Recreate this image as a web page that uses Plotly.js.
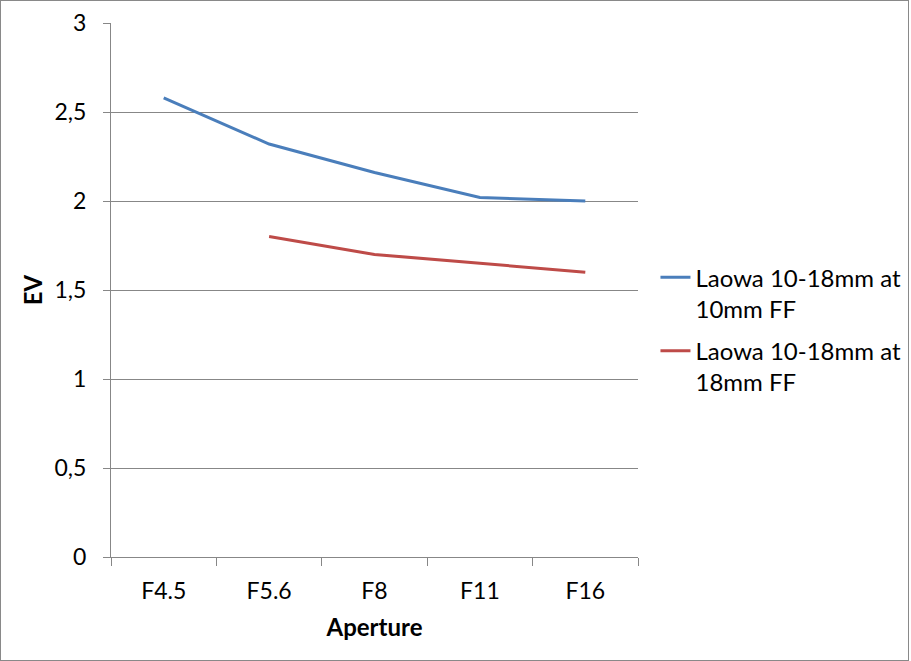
<!DOCTYPE html>
<html>
<head>
<meta charset="utf-8">
<script src="https://cdn.plot.ly/plotly-3.0.1.min.js"></script>
<style>
  html, body { margin: 0; padding: 0; background: #fff; }
  #wrap { position: relative; width: 911px; height: 661px; }
  #chart { position: absolute; left: 0; top: 0; width: 911px; height: 661px; }
  #frame { position: absolute; left: 0; top: 0; width: 909px; height: 661px; box-sizing: border-box; border: 1px solid #898989; pointer-events: none; }
</style>
</head>
<body>
<div id="wrap">
  <div id="chart"></div>
  <div id="frame"></div>
</div>
<script>
const categories = ["F4.5", "F5.6", "F8", "F11", "F16"];
const series10mm = [2.58, 2.32, 2.16, 2.02, 2.00];
const series18mm = [null, 1.80, 1.70, 1.65, 1.60];
const seriesNames = ["Laowa 10-18mm at<br>10mm FF", "Laowa 10-18mm at<br>18mm FF"];
const yTickVals = [0, 0.5, 1, 1.5, 2, 2.5, 3];
const yTickText = ["0", "0,5", "1", "1,5", "2", "2,5", "3"];

const FONT = "Lato, 'Open Sans', sans-serif";
const GRID = "#878787";

const traces = [
  { x: categories, y: series10mm, name: seriesNames[0], type: "scatter", mode: "lines",
    legendgroup: "g1", line: { color: "#4A7EBB", width: 3 }, connectgaps: false },
  { x: categories, y: series18mm, name: seriesNames[1], type: "scatter", mode: "lines",
    legendgroup: "g2", line: { color: "#BE4B48", width: 3 }, connectgaps: false }
];

const layout = {
  width: 911, height: 661,
  margin: { l: 111, r: 273, t: 23, b: 104, autoexpand: false },
  paper_bgcolor: "#ffffff", plot_bgcolor: "#ffffff",
  font: { family: FONT, size: 23, color: "#000" },
  showlegend: true,
  legend: {
    xref: "container", yref: "container",
    x: 0.7195, y: 0.614, xanchor: "left", yanchor: "top",
    font: { family: FONT, size: 24, color: "#000" },
    valign: "top", traceorder: "grouped", tracegroupgap: 8, itemwidth: 30,
    bgcolor: "rgba(0,0,0,0)"
  },
  xaxis: {
    type: "category",
    range: [-0.5, 4.5],
    showgrid: false,
    showline: true, linecolor: GRID, linewidth: 1,
    ticks: "outside", tickson: "boundaries", ticklen: 8, tickcolor: GRID, tickwidth: 1,
    tickfont: { family: FONT, size: 23, color: "#000" },
    ticklabelstandoff: 13,
    title: { text: "<b>Aperture</b>", font: { family: FONT, size: 24, color: "#000" }, standoff: 16 },
    zeroline: false, fixedrange: true
  },
  yaxis: {
    range: [0, 3],
    tickvals: yTickVals, ticktext: yTickText,
    showgrid: true, gridcolor: GRID, gridwidth: 1,
    showline: true, linecolor: GRID, linewidth: 1,
    ticks: "outside", ticklen: 7, tickcolor: GRID, tickwidth: 1,
    tickfont: { family: FONT, size: 23, color: "#000" },
    ticklabelstandoff: 12,
    title: { text: "<b>EV</b>", font: { family: FONT, size: 24, color: "#000" }, standoff: 5 },
    zeroline: false, fixedrange: true
  }
};

Plotly.newPlot("chart", traces, layout, { displayModeBar: false, staticPlot: true });
</script>
</body>
</html>
